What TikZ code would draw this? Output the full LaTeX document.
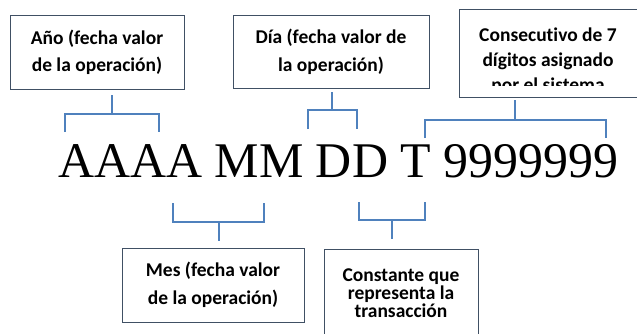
\documentclass[tikz,border=0pt]{standalone}
\usepackage{fontspec}
\newfontfamily\boxfont[Ligatures=NoCommon]{Carlito}
\newfontfamily\codefont{Liberation Serif}
\definecolor{boxline}{RGB}{64,80,100}
\definecolor{brblue}{RGB}{79,129,189}
\begin{document}
\begin{tikzpicture}[x=1pt,y=-1pt,
  lbl/.style={draw=boxline, line width=0.9pt, inner sep=0pt, align=center, text=black},
  br/.style={draw=brblue, line width=1.8pt}]
\useasboundingbox (0,0) rectangle (637,333);
\clip (0,0) rectangle (637,333);
% boxes
\node[lbl, minimum width=174pt, minimum height=74pt, font=\boxfont\bfseries\fontsize{19.5}{27}\selectfont]
  (ano) at (97,52) {Año (fecha valor\\de la operación)};
\node[lbl, minimum width=196pt, minimum height=73pt, font=\boxfont\bfseries\fontsize{19.5}{28}\selectfont]
  (dia) at (331,51.5) {Día (fecha valor de\\la operación)};
\node[lbl, minimum width=178pt, minimum height=88pt] (cons) at (548,53) {};
\begin{scope}
  \clip (459,9) rectangle (637,85.5);
  \node[anchor=north, inner sep=0pt, align=center, font=\boxfont\bfseries\fontsize{19.5}{25}\selectfont]
    (constxt) at (548,27.5) {Consecutivo de 7\\dígitos asignado\\por el sistema};
\end{scope}
\node[lbl, minimum width=182pt, minimum height=74pt, font=\boxfont\bfseries\fontsize{19.5}{28}\selectfont]
  (mes) at (213,285) {Mes (fecha valor\\de la operación)};
\node[lbl, minimum width=154pt, minimum height=100pt] (ctte) at (401,299) {};
\node[anchor=north, inner sep=0pt, align=center, font=\boxfont\bfseries\fontsize{19.5}{18}\selectfont]
  (cttetxt) at (401,269) {Constante que\\representa la\\transacción};
% code line
\node[anchor=base west, inner sep=0pt, font=\codefont\fontsize{49.9}{51}\selectfont]
  (code) at (58,177) {AAAA MM DD T 9999999};
% brackets
\coordinate (a1) at (65,132); \coordinate (a2) at (159,132); \coordinate (am) at (112,114);
\draw[br] (a1) |- (am) -| (a2);
\draw[br] (am) -- (112,95);
\coordinate (d1) at (308,129); \coordinate (d2) at (357,129); \coordinate (dm) at (332,110);
\draw[br] (d1) |- (dm) -| (d2);
\draw[br] (dm) -- (332,92);
\coordinate (c1) at (425,138); \coordinate (c2) at (606,138); \coordinate (cm) at (515,120);
\draw[br] (c1) |- (cm) -| (c2);
\draw[br] (cm) -- (515,100);
\coordinate (m1) at (173,203); \coordinate (m2) at (264,203); \coordinate (mm) at (219,222);
\draw[br] (m1) |- (mm) -| (m2);
\draw[br] (mm) -- (219,241);
\coordinate (t1) at (359,202); \coordinate (t2) at (425,202); \coordinate (tm) at (392,220);
\draw[br] (t1) |- (tm) -| (t2);
\draw[br] (tm) -- (392,239);
\end{tikzpicture}
\end{document}
